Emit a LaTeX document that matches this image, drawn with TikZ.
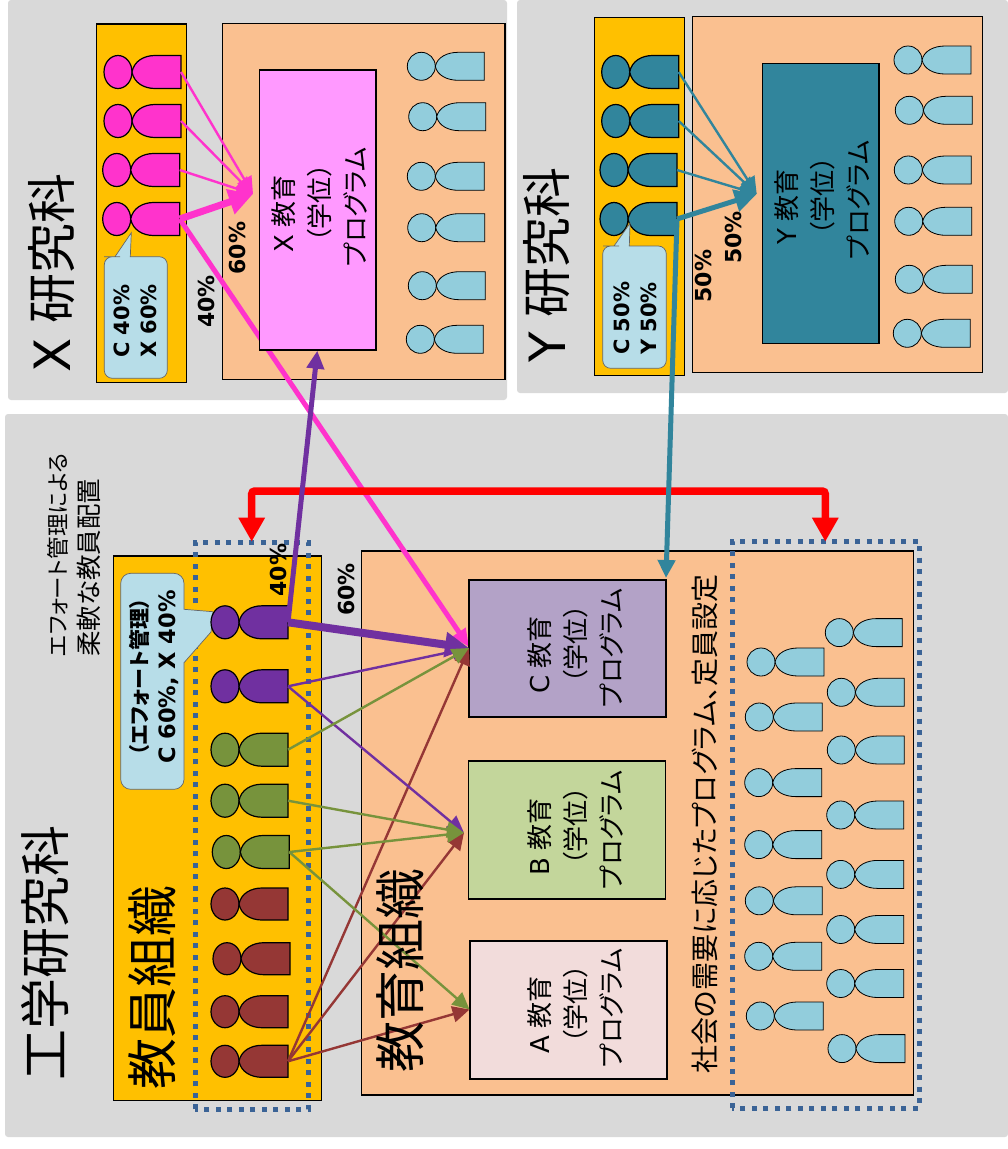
\documentclass[tikz,border=0pt]{standalone}
\usepackage{fontspec}
\setmainfont{DejaVu Sans}
\newfontfamily\cjk[RawFeature=+palt]{Noto Sans CJK JP}
\usetikzlibrary{arrows.meta}
\definecolor{panelgrey}{HTML}{D9D9D9}
\definecolor{facgold}{HTML}{FFC000}
\definecolor{orgpeach}{HTML}{FAC090}
\definecolor{lightblue}{HTML}{92CDDC}
\definecolor{callblue}{HTML}{B7DDE8}
\definecolor{pinkc}{HTML}{FF33CC}
\definecolor{tealc}{HTML}{31859C}
\definecolor{purplec}{HTML}{7030A0}
\definecolor{greenc}{HTML}{77933C}
\definecolor{brownc}{HTML}{953735}
\definecolor{dotc}{HTML}{3A6396}
\definecolor{xprogc}{HTML}{FF99FF}
\definecolor{cprogc}{HTML}{B3A2C7}
\definecolor{bprogc}{HTML}{C3D69B}
\definecolor{aprogc}{HTML}{F2DCDB}
\newcommand\J[1]{{\cjk #1}}
\newcommand\fs[1]{\fontsize{#1}{#1}\selectfont}
% name, x-left, y-centre, fill, height, border width
\newcommand\ppl[6]{%
  \path[fill=#4,draw=black,line width=#6] (#2+14,#3) ellipse [x radius=14,y radius=#5/2];
  \path[fill=#4,draw=black,line width=#6] (#2+28,#3)
     .. controls (#2+30,#3-#5*0.33) and (#2+40,#3-#5/2) .. (#2+51,#3-#5/2)
     -- (#2+77,#3-#5/2) -- (#2+77,#3+#5/2) -- (#2+51,#3+#5/2)
     .. controls (#2+40,#3+#5/2) and (#2+30,#3+#5*0.33) .. cycle;
  \coordinate (#1) at (#2+77,#3);}
\newcommand\lp[3]{\ppl{#1}{#2}{#3}{lightblue}{28}{0.8pt}}
\newcommand\bx[6]{\node[boxn,fill=#6,minimum width=#4-#2,minimum height=#5-#3] (#1) at ({(#2+#4)/2},{(#3+#5)/2}) {};}
\newcommand\prg[1]{#1\hspace{0.25em}\J{教育}\rule{14pt}{0pt}\\[10pt]\rule{8pt}{0pt}\J{（学位）}\\[10pt]\J{プログラム}}
\tikzset{
  boxn/.style={draw=black,line width=1.1pt,inner sep=0pt,outer sep=0pt,rectangle},
  txt/.style={rotate=90,inner sep=0pt,align=center,text=black},
  progtxt/.style={txt,font=\fs{26},align=center},
  pct/.style={txt,font=\fs{22}\bfseries},
  callout/.style={fill=callblue,draw=black!60,line width=0.7pt},
  dotbox/.style={draw=dotc,line width=5pt,dash pattern=on 5pt off 6.5pt},
  con/.style={-{Triangle[width=16pt,length=17pt]},line width=2.4pt},
  conmid/.style={-{Triangle[width=17pt,length=18pt]},line width=5pt},
  conbig/.style={-{Triangle[width=24pt,length=24pt]},line width=8pt},
}
\begin{document}
\begin{tikzpicture}[x=1pt,y=-1pt]
\useasboundingbox (0,0) rectangle (1008,1149);
% panels
\path[fill=panelgrey,rounded corners=3] (8,0) rectangle (507,400);
\path[fill=panelgrey,rounded corners=3] (517,0) rectangle (1008,393);
\path[fill=panelgrey,rounded corners=3] (5,414) rectangle (1008,1137);
% X
\bx{xfac}{96.7}{24}{186.7}{382.7}{facgold}
\bx{xorg}{222.3}{23.3}{505}{379.3}{orgpeach}
% Y
\bx{yfac}{594.7}{17.3}{684.7}{375.7}{facgold}
\bx{yorg}{692.7}{16.7}{982.7}{372.7}{orgpeach}
% main
\bx{mfac}{113.3}{556}{321.7}{1100.7}{facgold}
\bx{morg}{361.7}{551}{913.3}{1095}{orgpeach}
% persons X
\ppl{xa}{104}{72}{pinkc}{33}{1.2pt}
\ppl{xb}{104}{121}{pinkc}{33}{1.2pt}
\ppl{xc}{102.7}{170}{pinkc}{33}{1.2pt}
\ppl{xd}{102.7}{219}{pinkc}{33}{1.2pt}
\lp{xl1}{407.3}{66.3}\lp{xl2}{408.7}{116.7}\lp{xl3}{407.3}{176.3}
\lp{xl4}{407.7}{227.7}\lp{xl5}{408.3}{285.7}\lp{xl6}{406.3}{339.3}
% persons Y
\ppl{ya}{601.7}{72}{tealc}{33}{1.2pt}
\ppl{yb}{601.7}{121}{tealc}{33}{1.2pt}
\ppl{yc}{600}{170}{tealc}{33}{1.2pt}
\ppl{yd}{600}{219}{tealc}{33}{1.2pt}
\lp{yl1}{894}{60}\lp{yl2}{895.3}{110.3}\lp{yl3}{894.3}{170}
\lp{yl4}{894.7}{221.3}\lp{yl5}{895.3}{279.3}\lp{yl6}{893.3}{333.3}
% engineering persons
\ppl{mb}{211}{686.3}{purplec}{33}{1.2pt}
\ppl{mc}{211}{749.7}{greenc}{33}{1.2pt}
\ppl{md}{211}{800.7}{greenc}{33}{1.2pt}
\ppl{me}{212.3}{852}{greenc}{33}{1.2pt}
\ppl{mf}{211}{904}{brownc}{32}{1.2pt}
\ppl{mg}{213}{958.7}{brownc}{32}{1.2pt}
\ppl{mh}{211}{1011.7}{brownc}{32}{1.2pt}
\ppl{mi}{211}{1061.3}{brownc}{32}{1.2pt}
% right-hand staff
\lp{r1}{747}{662}\lp{r2}{745.3}{717}\lp{r3}{744.7}{782.6}\lp{r4}{744.7}{844.6}
\lp{r5}{745.3}{900.8}\lp{r6}{744.7}{956.3}\lp{r7}{746.3}{1016}
\lp{s1}{825.3}{632.6}\lp{s2}{827.3}{692.3}\lp{s3}{827.3}{750}\lp{s4}{826.7}{815}
\lp{s5}{826.7}{874.4}\lp{s6}{826.7}{929.5}\lp{s7}{826.7}{983.5}\lp{s8}{828}{1048.6}
% connector end points
\coordinate (xT) at (253,194);
\coordinate (xB) at (317.3,350.7);
\coordinate (yT) at (756.7,194);
\coordinate (cT) at (469,648);
\coordinate (cP) at (469,647);
\coordinate (cY) at (666,578);
\coordinate (bT) at (464,832.7);
\coordinate (aT) at (469.5,1009.5);
\coordinate (rL) at (251.7,541.7);
\coordinate (rR) at (825.3,541.7);
% long pink line runs under the X programme box
\draw[-{Triangle[width=15pt,length=18pt]},line width=5pt,pinkc] (xd) -- (cP);
\bx{xprog}{259.3}{70}{376}{350}{xprogc}
\bx{yprog}{762.3}{63.3}{879}{343.3}{tealc}
\bx{cprog}{469}{580}{666}{717}{cprogc}
\bx{bprog}{468.5}{761}{665.5}{899}{bprogc}
\bx{aprog}{470}{941}{667}{1079}{aprogc}
% dotted boxes
\draw[dotbox] (195,1109.3) rectangle (308.3,542.7);
\draw[dotbox] (732.3,1108) rectangle (919.3,541);
% red double arrow
\draw[{Triangle[width=25pt,length=24pt]}-{Triangle[width=25pt,length=24pt]},line width=7.5pt,red,rounded corners=3pt]
  (rL) -- (251.7,491) -- (825.3,491) -- (rR);
% callouts
\path[callout] (104.3,320) [rounded corners=8] -- (104.3,256.7) -- (112,256.7) [sharp corners] -- (115,256.7) -- (131.3,232.7) -- (130.3,256.7) -- (140,256.7) [rounded corners=8] -- (167.3,256.7) -- (167.3,378.3) -- (104.3,378.3) -- cycle;
\path[callout] (602.7,310) [rounded corners=8] -- (602.7,246) -- (611,246) [sharp corners] -- (614,246) -- (630,223.3) -- (629.3,246) -- (640,246) [rounded corners=8] -- (666.3,246) -- (666.3,368.3) -- (602.7,368.3) -- cycle;
\path[callout] (120.7,680) [rounded corners=10] -- (120.7,573.3) -- (184,573.3) -- (184,595) [sharp corners] -- (184,609.3) -- (213,611.7) -- (211,632) -- (184,662.7) -- (184,680) [rounded corners=10] -- (184,789.3) -- (120.7,789.3) -- cycle;
\ppl{ma}{211}{622.3}{purplec}{33}{1.2pt}
% connectors: brown
\draw[con,brownc] (mi) -- (cT);
\draw[con,brownc] (mi) -- (bT);
\draw[con,brownc] (mi) -- (aT);
% purple
\draw[con,purplec] (mb) -- (cT);
\draw[con,purplec] (mb) -- (bT);
\draw[conbig,purplec] (ma) -- (cT);
\draw[conmid,purplec] (ma) -- (xB);
% green
\draw[con,greenc] (mc) -- (cT);
\draw[con,greenc] (md) -- (bT);
\draw[con,greenc] (me) -- (bT);
\draw[con,greenc] (me) -- (aT);
% pink
\draw[con,pinkc] (xa) -- (xT);
\draw[con,pinkc] (xb) -- (xT);
\draw[con,pinkc] (xc) -- (xT);
\draw[-{Triangle[width=25pt,length=24pt]},line width=7pt,pinkc] (xd) -- (xT);
% teal
\draw[con,tealc] (ya) -- (yT);
\draw[con,tealc] (yb) -- (yT);
\draw[con,tealc] (yc) -- (yT);
\draw[-{Triangle[width=22pt,length=22pt]},line width=5pt,tealc] (yd) -- (yT);
\draw[conmid,tealc] (yd) -- (cY);
% titles
\node[txt,font=\fs{50}] (txA) at (52,273) {X\hspace{0.3em}\J{研究科}};
\node[txt,font=\fs{50}] (txB) at (547,265) {Y\hspace{0.3em}\J{研究科}};
\node[txt,font=\fs{51}] (txC) at (45,953) {\J{工学研究科}};
\node[txt,font=\fs{51}] (txD) at (152,987) {\J{教員組織}};
\node[txt,font=\fs{51}] (txE) at (400,970) {\J{教育組織}};
\node[txt,font=\fs{28}] (txF) at (705,824) {\J{社会の需要に応じたプログラム、定員設定}};
\node[txt,align=left,anchor=west] (txG) at (74,657) {\fs{22.5}\J{エフォート管理による}\\[8pt]\fs{25.5}\J{柔軟な教員配置}};
% programme texts
\node[progtxt] (txX) at (319,207) {\prg{X}};
\node[progtxt] (txY) at (822,200) {\prg{Y}};
\node[progtxt] (txCc) at (575,648) {\prg{C}};
\node[progtxt] (txBb) at (575,830) {\prg{B}};
\node[progtxt] (txAa) at (575,1008) {\prg{A}};
% percent labels
\node[pct] (p1) at (237.7,248) {60\%};
\node[pct] (p2) at (206.7,301.6) {40\%};
\node[pct] (p3) at (733,237.3) {50\%};
\node[pct] (p4) at (703,276) {50\%};
\node[pct] (p5) at (278,570) {40\%};
\node[pct] (p6) at (346.7,589.5) {60\%};
% callout texts
\node[txt,font=\fs{21}\bfseries,align=left,anchor=west] (c1) at (135.5,358) {C 40\%\\[6pt]X 60\%};
\node[txt,font=\fs{21}\bfseries,align=left,anchor=west] (c2) at (635,355) {C 50\%\\[6pt]Y 50\%};
\node[txt,font=\fs{22.5}\bfseries] (c3) at (154,677) {\J{\bfseries\fs{21}（エフォート管理）}\\[5pt]C 60\%, X 40\%};
\end{tikzpicture}
\end{document}
